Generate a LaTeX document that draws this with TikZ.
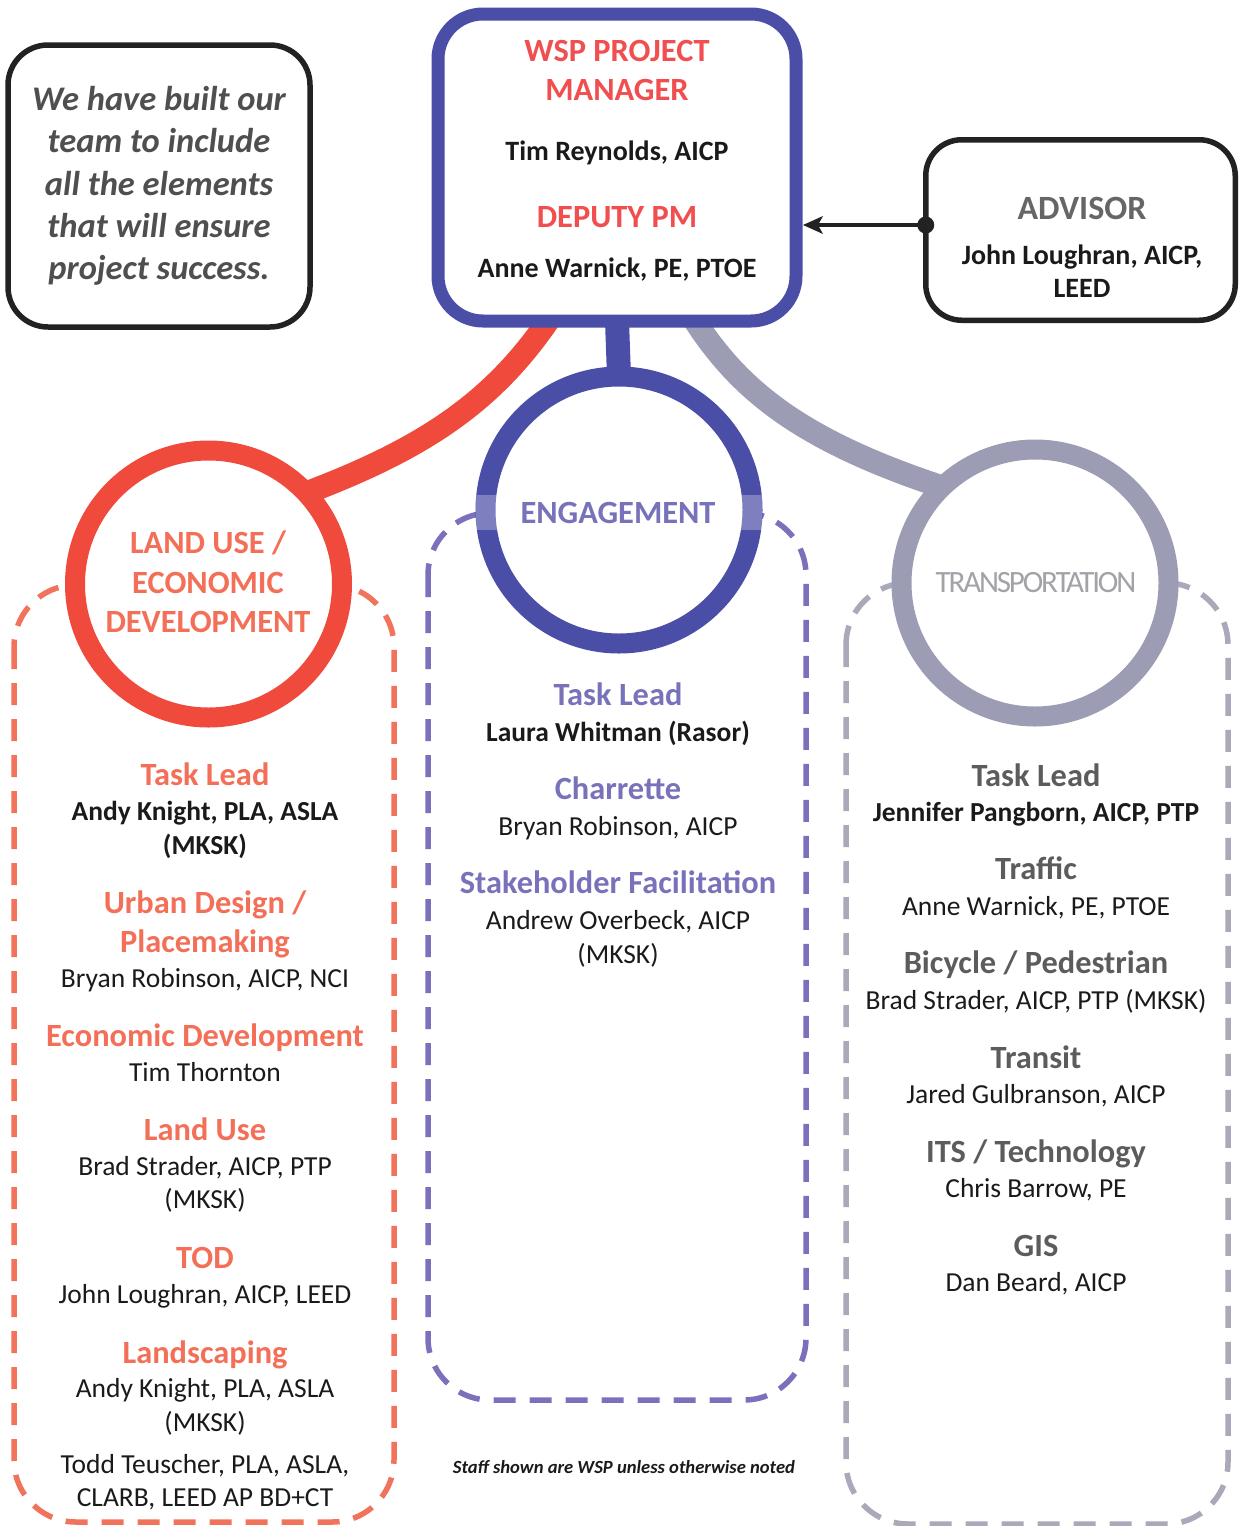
\documentclass[tikz,border=0pt]{standalone}
\usepackage{fontspec}
\setmainfont{Carlito}
\usetikzlibrary{arrows.meta,calc}
\definecolor{pmblue}{HTML}{4B4EA6}
\definecolor{ringred}{HTML}{EF4A3C}
\definecolor{ringgray}{HTML}{9C9CB5}
\definecolor{pmred}{HTML}{F14E50}
\definecolor{lured}{HTML}{F36F58}
\definecolor{dashred}{HTML}{F2735C}
\definecolor{enpurple}{HTML}{7872BA}
\definecolor{dashpurple}{HTML}{7B70BC}
\definecolor{trgray}{HTML}{5C5C5C}
\definecolor{dashgray}{HTML}{A9A9BA}
\definecolor{notegray}{HTML}{4F4F4F}
\definecolor{advgray}{HTML}{666666}
\definecolor{trlabel}{HTML}{A2A2A8}
\definecolor{ink}{HTML}{1A1A1A}
\definecolor{boxblack}{HTML}{222222}
\newcommand\fHead{\bfseries\fontsize{32.4}{39}\selectfont}
\newcommand\fPMName{\bfseries\fontsize{28}{33}\selectfont}
\newcommand\fNameB{\bfseries\fontsize{27.5}{33}\selectfont}
\newcommand\fName{\fontsize{27.5}{33}\selectfont}
\newcommand\fNote{\bfseries\itshape\fontsize{34.5}{42.3}\selectfont}
\newcommand\fAdv{\bfseries\fontsize{34}{40}\selectfont}
\newcommand\fTrans{\fontsize{31}{36}\selectfont\addfontfeatures{LetterSpace=-7}}
\newcommand\fStaff{\bfseries\itshape\fontsize{18.6}{22}\selectfont}
\tikzset{
  txt/.style={anchor=base, inner sep=0pt, outer sep=0pt},
  hdL/.style={txt, font=\fHead, text=lured},
  hdM/.style={txt, font=\fHead, text=enpurple},
  hdR/.style={txt, font=\fHead, text=trgray},
  hdPM/.style={txt, font=\fHead, text=pmred},
  nmPM/.style={txt, font=\fPMName, text=ink},
  nmB/.style={txt, font=\fNameB, text=ink},
  nm/.style={txt, font=\fName, text=ink},
  dashbox/.style={line width=5.5pt, dash pattern=on 22pt off 14pt, rounded corners=62pt},
  ring/.style={circle, minimum size=267pt, line width=20pt, fill=white, inner sep=0pt, outer sep=0pt},
  conn/.style={line width=23pt},
  card/.style={fill=white, inner sep=0pt, outer sep=0pt},
}
\begin{document}
\begin{tikzpicture}[x=1pt,y=-1pt]
\useasboundingbox (0,0) rectangle (1241,1526);

% dashed group boxes
\draw[dashbox, dashred] (14,585) rectangle (394,1522);
\draw[dashbox, dashpurple] (428,513) rectangle (806,1400);
\draw[dashbox, dashgray] (846,583) rectangle (1228,1524);

% positions
\path (208.5,584) coordinate (luc) (619,510) coordinate (enc) (1035,583) coordinate (trc) (617,167.5) coordinate (pmc);

% connector end nodes (shape outlines only for anchoring)
\node[circle, minimum size=267pt, inner sep=0pt, outer sep=0pt] (lu0) at (luc) {};
\node[circle, minimum size=267pt, inner sep=0pt, outer sep=0pt] (tr0) at (trc) {};
\node[minimum width=358pt, minimum height=307pt, inner sep=0pt, outer sep=0pt] (pm0) at (pmc) {};
\draw[conn, ringred] ($(pm0.south)+(-69,0)$) .. controls (492,402) and (425,448) .. (lu0.43);
\draw[conn, ringgray] ($(pm0.south)+(78,0)$) .. controls (740,390) and (800,440) .. (tr0.134);

% circles
\node[ring, draw=ringred] (lu) at (luc) {};
\node[ring, draw=pmblue] (en) at (enc) {};
\node[ring, draw=ringgray] (tr) at (trc) {};
\fill[white, opacity=0.28] (476,495) rectangle (497,530);
\fill[white, opacity=0.28] (741,495) rectangle (762,530);

% stem
\draw[line width=24pt, pmblue] (pm0.south) -- (en.north);

% project manager box
\node[card, draw=pmblue, line width=13pt, rounded corners=45pt, minimum width=358pt, minimum height=307pt] (pm) at (pmc) {};

% note box
\node[card, draw=boxblack, line width=5.5pt, rounded corners=40pt, minimum width=302pt, minimum height=282pt, align=center, font=\fNote, text=notegray] (note) at (159,186) {We have built our\\team to include\\all the elements\\that will ensure\\project success.};

% advisor box
\node[card, draw=boxblack, line width=5.5pt, rounded corners=36pt, minimum width=309.5pt, minimum height=180.5pt] (adv) at (1080.5,230) {};
\coordinate (tipend) at ($(adv.west -| pm.east)+(7,-5)$);
\draw[line width=4.5pt, boxblack] ($(adv.west)+(0,-5)$) -- ($(tipend)+(12,0)$);
\fill[boxblack] (tipend) -- ++(20,-9) -- ++(-5,9) -- ++(5,9) -- cycle;
\fill[boxblack] ($(adv.west)+(0,-5)$) circle[radius=8.5pt];
\node[txt, font=\fAdv, text=advgray] (advt) at (1082,219) {ADVISOR};
\node[nmPM] (advn1) at (1082,264) {John Loughran, AICP,};
\node[nmPM] (advn2) at (1082,297) {LEED};

% PM texts
\node[hdPM] (pm1) at (617,61) {WSP PROJECT};
\node[hdPM] (pm2) at (617,100) {MANAGER};
\node[nmPM] (pm3) at (617,160) {Tim Reynolds, AICP};
\node[hdPM] (pm4) at (617,227) {DEPUTY PM};
\node[nmPM] (pm5) at (617,277) {Anne Warnick, PE, PTOE};

% circle labels
\node[txt, font=\fHead, text=lured] (lut1) at (208,553) {LAND USE /};
\node[txt, font=\fHead, text=lured] (lut2) at (208,593) {ECONOMIC};
\node[txt, font=\fHead, text=lured] (lut3) at (208,632) {DEVELOPMENT};
\node[txt, font=\fHead, text=enpurple] (ent) at (618,523) {ENGAGEMENT};
\node[txt, font=\fTrans, text=trlabel] (trt) at (1036,592) {TRANSPORTATION};

% left column
\node[hdL] (a1) at (205,785) {Task Lead};
\node[nmB] (a2) at (205,820) {Andy Knight, PLA, ASLA};
\node[nmB] (a3) at (205,854) {(MKSK)};
\node[hdL] (a4) at (205,913) {Urban Design /};
\node[hdL] (a5) at (205,952) {Placemaking};
\node[nm] (a6) at (205,987) {Bryan Robinson, AICP, NCI};
\node[hdL] (a7) at (205,1046) {Economic Development};
\node[nm] (a8) at (205,1081) {Tim Thornton};
\node[hdL] (a9) at (205,1140) {Land Use};
\node[nm] (a10) at (205,1175) {Brad Strader, AICP, PTP};
\node[nm] (a11) at (205,1208) {(MKSK)};
\node[hdL] (a12) at (205,1268) {TOD};
\node[nm] (a13) at (205,1303) {John Loughran, AICP, LEED};
\node[hdL] (a14) at (205,1363) {Landscaping};
\node[nm] (a15) at (205,1397) {Andy Knight, PLA, ASLA};
\node[nm] (a16) at (205,1431) {(MKSK)};
\node[nm] (a17) at (205,1473) {Todd Teuscher, PLA, ASLA,};
\node[nm] (a18) at (205,1506) {CLARB, LEED AP BD+CT};

% middle column
\node[hdM] (b1) at (618,705) {Task Lead};
\node[nmB] (b2) at (618,741) {Laura Whitman (Rasor)};
\node[hdM] (b3) at (618,799) {Charrette};
\node[nm] (b4) at (618,835) {Bryan Robinson, AICP};
\node[hdM] (b5) at (618,893) {Stakeholder Facilitation};
\node[nm] (b6) at (618,929) {Andrew Overbeck, AICP};
\node[nm] (b7) at (618,963) {(MKSK)};
\node[txt, font=\fStaff, text=ink] (staff) at (624,1473) {Staff shown are WSP unless otherwise noted};

% right column
\node[hdR] (c1) at (1036,786) {Task Lead};
\node[nmB] (c2) at (1036,821) {Jennifer Pangborn, AICP, PTP};
\node[hdR] (c3) at (1036,879) {Traffic};
\node[nm] (c4) at (1036,915) {Anne Warnick, PE, PTOE};
\node[hdR] (c5) at (1036,973) {Bicycle / Pedestrian};
\node[nm] (c6) at (1036,1009) {Brad Strader, AICP, PTP (MKSK)};
\node[hdR] (c7) at (1036,1068) {Transit};
\node[nm] (c8) at (1036,1103) {Jared Gulbranson, AICP};
\node[hdR] (c9) at (1036,1162) {ITS / Technology};
\node[nm] (c10) at (1036,1197) {Chris Barrow, PE};
\node[hdR] (c11) at (1036,1256) {GIS};
\node[nm] (c12) at (1036,1291) {Dan Beard, AICP};
\end{tikzpicture}
\end{document}
